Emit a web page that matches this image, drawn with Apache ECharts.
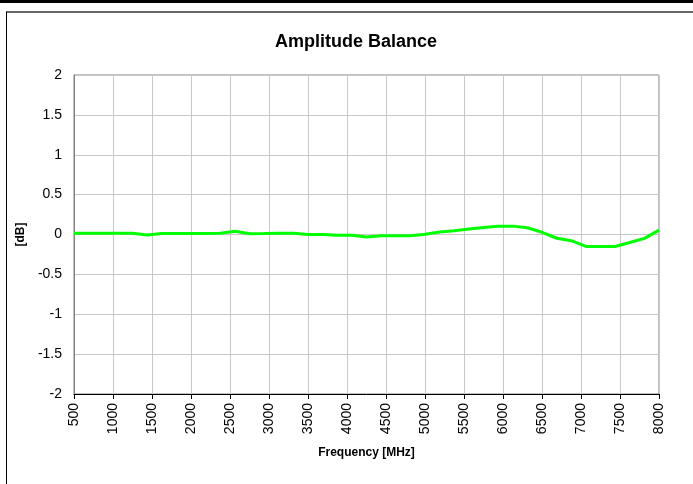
<!DOCTYPE html>
<html>
<head>
<meta charset="utf-8">
<script src="https://cdn.jsdelivr.net/npm/echarts@6/dist/echarts.min.js"></script>
<style>html,body{margin:0;padding:0;background:#fff;}#c{width:693px;height:484px;}</style>
</head>
<body>
<div id="c"></div>
<script>
// Frequency points (MHz), 187.5 MHz step
var freqs = [500, 687.5, 875, 1062.5, 1250, 1437.5, 1625, 1812.5, 2000, 2187.5,
  2375, 2562.5, 2750, 2937.5, 3125, 3312.5, 3500, 3687.5, 3875, 4062.5,
  4250, 4437.5, 4625, 4812.5, 5000, 5187.5, 5375, 5562.5, 5750, 5937.5,
  6125, 6312.5, 6500, 6687.5, 6875, 7062.5, 7250, 7437.5, 7625, 7812.5, 8000];
// Amplitude balance (dB)
var balance = [0.015, 0.015, 0.015, 0.015, 0.015, -0.005, 0.013, 0.013, 0.013, 0.013,
  0.015, 0.04, 0.01, 0.012, 0.015, 0.015, 0.0, 0.0, -0.01, -0.01,
  -0.03, -0.015, -0.015, -0.015, 0.003, 0.03, 0.047, 0.068, 0.088, 0.102,
  0.105, 0.085, 0.028, -0.047, -0.078, -0.15, -0.15, -0.15, -0.1, -0.048, 0.055];
var xTicks = {min: 500, max: 8000, step: 500};
var yTicks = {min: -2, max: 2, step: 0.5};
var titleText = 'Amplitude Balance';
var xName = 'Frequency [MHz]';
var yName = '[dB]';

var chart = echarts.init(document.getElementById('c'), null, {renderer: 'canvas'});
var pts = freqs.map(function (f, i) { return [f, balance[i]]; });
var FONT = '"Liberation Sans", Arial, sans-serif';
chart.setOption({
  animation: false,
  backgroundColor: '#ffffff',
  title: {
    text: titleText, left: 351, top: 28, textAlign: 'center',
    textStyle: {fontFamily: FONT, fontSize: 18, fontWeight: 'bold', color: '#000'}
  },
  grid: {left: 74, right: 34, top: 75, bottom: 90, show: true, borderColor: '#808080', borderWidth: 1, backgroundColor: 'transparent'},
  xAxis: {
    type: 'value', min: xTicks.min, max: xTicks.max, interval: xTicks.step,
    name: xName, nameLocation: 'middle', nameGap: 53,
    nameTextStyle: {fontFamily: FONT, fontSize: 12, fontWeight: 'bold', color: '#000'},
    axisLine: {show: true, onZero: false, lineStyle: {color: '#000', width: 1}},
    axisTick: {show: true, length: 5, lineStyle: {color: '#000'}},
    axisLabel: {rotate: 90, margin: 9, fontFamily: FONT, fontSize: 14, color: '#000',
      formatter: function (v) { return String(v); }},
    splitLine: {show: true, lineStyle: {color: '#c8c8c8', width: 1}}
  },
  yAxis: {
    type: 'value', min: yTicks.min, max: yTicks.max, interval: yTicks.step,
    name: yName, nameLocation: 'middle', nameGap: 38, nameRotate: 90,
    nameTextStyle: {fontFamily: FONT, fontSize: 12, fontWeight: 'bold', color: '#000'},
    axisLine: {show: true, lineStyle: {color: '#808080', width: 1}},
    axisTick: {show: false},
    axisLabel: {margin: 12, fontFamily: FONT, fontSize: 14, color: '#000',
      formatter: function (v) { return String(v); }},
    splitLine: {show: true, lineStyle: {color: '#c8c8c8', width: 1}}
  },
  series: [{
    type: 'line', data: pts, showSymbol: false, symbol: 'none',
    lineStyle: {color: '#00ff00', width: 3}, z: 5
  }],
  graphic: [
    {type: 'rect', shape: {x: 0, y: 0, width: 693, height: 3}, style: {fill: '#000'}},
    {type: 'line', shape: {x1: 6.5, y1: 12, x2: 693, y2: 12}, style: {stroke: '#333', lineWidth: 1.5}},
    {type: 'line', shape: {x1: 6.5, y1: 11.5, x2: 6.5, y2: 484}, style: {stroke: '#000', lineWidth: 1}}
  ]
});
</script>
</body>
</html>
